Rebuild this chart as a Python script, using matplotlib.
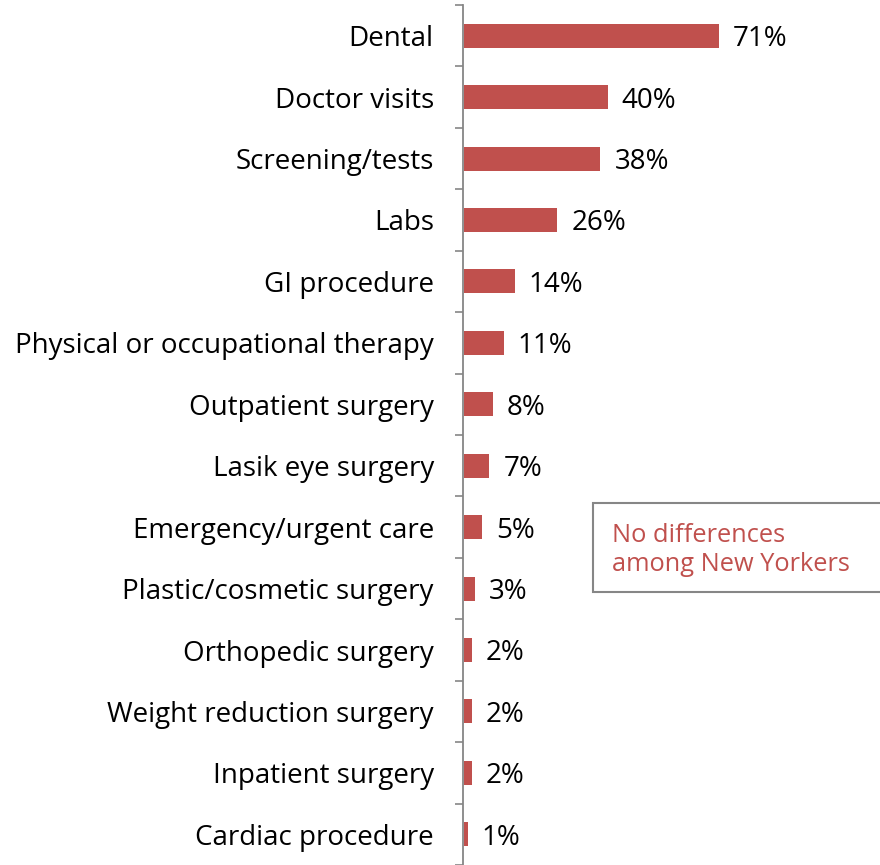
import matplotlib
matplotlib.use('Agg')
import matplotlib.pyplot as plt

# Share of respondents by type of out-of-pocket care
categories = [
    'Dental', 'Doctor visits', 'Screening/tests', 'Labs', 'GI procedure',
    'Physical or occupational therapy', 'Outpatient surgery', 'Lasik eye surgery',
    'Emergency/urgent care', 'Plastic/cosmetic surgery', 'Orthopedic surgery',
    'Weight reduction surgery', 'Inpatient surgery', 'Cardiac procedure',
]
values = [71, 40, 38, 26, 14, 11, 8, 7, 5, 3, 2, 2, 2, 1]
value_labels = [f'{v}%' for v in values]
note_text = 'No differences\namong New Yorkers'

BAR_COLOR = '#C0504D'
AXIS_COLOR = '#868686'
FONT_SIZE = 20
NOTE_SIZE = 18.3

plt.rcParams['font.family'] = ['Open Sans', 'DejaVu Sans']

fig = plt.figure(figsize=(8.8, 8.65), dpi=100)
ax = fig.add_axes([463 / 880, 0.0, 1 - 463 / 880, 1 - 5 / 865])

ypos = list(range(len(categories)))
ax.barh(ypos, values, height=0.39, color=BAR_COLOR, left=0.4)

for y, v, lab in zip(ypos, values, value_labels):
    ax.annotate(lab, xy=(v + 0.4, y), xytext=(10, 0), textcoords='offset points',
                ha='left', va='center_baseline', fontsize=FONT_SIZE, color='black')

ax.set_xlim(0, 116.5)
ax.set_ylim(len(categories) - 0.5, -0.5)
ax.set_yticks(ypos)
ax.set_yticklabels(categories, fontsize=FONT_SIZE, va='center_baseline')
ax.set_yticks([k - 0.5 for k in range(len(categories) + 1)], minor=True)
ax.tick_params(axis='y', which='major', length=0, pad=21)
ax.tick_params(axis='y', which='minor', length=6, width=1.2, color=AXIS_COLOR, direction='out')
ax.set_xticks([])

for side in ('top', 'right', 'bottom'):
    ax.spines[side].set_visible(False)
ax.spines['left'].set_color(AXIS_COLOR)
ax.spines['left'].set_linewidth(1.3)

# note box sits partly outside the figure on the right
fig.patches.append(plt.Rectangle((593 / 880, 1 - 592 / 865), 300 / 880, 89 / 865,
                                 transform=fig.transFigure, facecolor='white',
                                 edgecolor=AXIS_COLOR, linewidth=1.5))
fig.text(612 / 880, 1 - 550 / 865, note_text, color=BAR_COLOR, fontsize=NOTE_SIZE,
         ha='left', va='center', linespacing=1.25)

fig.savefig('out.png', dpi=100)
